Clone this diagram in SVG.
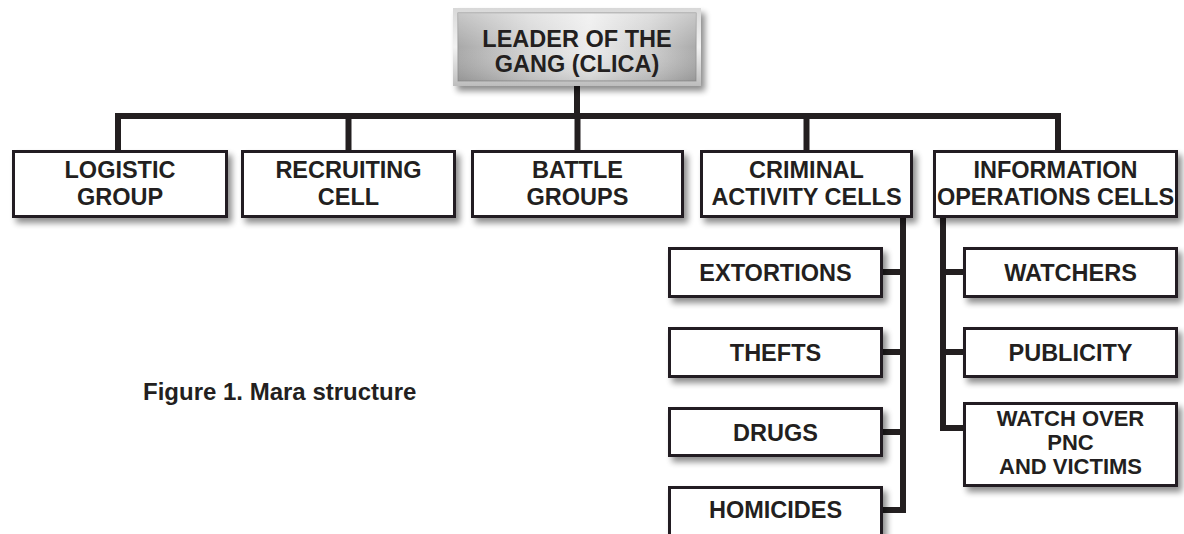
<svg xmlns="http://www.w3.org/2000/svg" width="1184" height="534" viewBox="0 0 1184 534">
<defs>
<filter id="sh" x="-10%" y="-20%" width="130%" height="160%">
<feGaussianBlur in="SourceAlpha" stdDeviation="3"/>
<feOffset dx="4" dy="5" result="b"/>
<feComponentTransfer><feFuncA type="linear" slope="0.45"/></feComponentTransfer>
<feMerge><feMergeNode/><feMergeNode in="SourceGraphic"/></feMerge>
</filter>
<linearGradient id="frame" x1="0" y1="0" x2="0" y2="1">
<stop offset="0" stop-color="#d8d8d8"/>
<stop offset="0.5" stop-color="#f2f2f2"/>
<stop offset="1" stop-color="#bdbdbd"/>
</linearGradient>
<linearGradient id="metal" x1="0" y1="0" x2="1" y2="0">
<stop offset="0" stop-color="#a9a9a9"/>
<stop offset="0.3" stop-color="#d4d4d4"/>
<stop offset="0.55" stop-color="#ececec"/>
<stop offset="0.8" stop-color="#cfcfcf"/>
<stop offset="1" stop-color="#ababab"/>
</linearGradient>
<linearGradient id="metalv" x1="0" y1="0" x2="0" y2="1">
<stop offset="0" stop-color="#ffffff" stop-opacity="0.35"/>
<stop offset="0.5" stop-color="#ffffff" stop-opacity="0"/>
<stop offset="1" stop-color="#000000" stop-opacity="0.12"/>
</linearGradient>
</defs>
<style>
.box{fill:#ffffff;stroke:#231f20;stroke-width:3;filter:url(#sh);}
.t{font-family:"Liberation Sans",Arial,sans-serif;font-weight:bold;font-size:23.5px;fill:#231f20;text-anchor:middle;}
.s{font-size:22px;}
.cap{font-family:"Liberation Sans",Arial,sans-serif;font-weight:bold;font-size:24px;fill:#231f20;}
.c{fill:none;stroke:#231f20;stroke-width:6;stroke-linejoin:miter;stroke-linecap:butt;}
</style>
<rect width="1184" height="534" fill="#ffffff"/>

<g id="connectors">
<path class="c" d="M577 86 V116"/>
<path class="c" d="M118 150 V116 H1058 V150"/>
<path class="c" d="M348.5 116 V150"/>
<path class="c" d="M577.5 116 V150"/>
<path class="c" d="M806.5 116 V150"/>
<path class="c" d="M903 218 V510 H883"/>
<path class="c" d="M883 272 H903"/>
<path class="c" d="M883 352 H903"/>
<path class="c" d="M883 432 H903"/>
<path class="c" d="M943 218 V428 H963"/>
<path class="c" d="M943 272 H963"/>
<path class="c" d="M943 352 H963"/>
</g>

<g id="leader">
<rect x="453" y="8" width="248" height="78" fill="url(#frame)" filter="url(#sh)"/>
<rect x="458" y="13" width="238" height="68" fill="url(#metal)" stroke="#9a9a9a" stroke-width="1"/>
<rect x="458" y="13" width="238" height="68" fill="url(#metalv)"/>
<text class="t" x="577" y="47">LEADER OF THE</text>
<text class="t" x="577" y="72">GANG (CLICA)</text>
</g>

<g id="logistic">
<rect class="box" x="13.5" y="151.5" width="213" height="65"/>
<text class="t" x="120" y="178">LOGISTIC</text>
<text class="t" x="120" y="205">GROUP</text>
</g>
<g id="recruiting">
<rect class="box" x="242.5" y="151.5" width="212" height="65"/>
<text class="t" x="348.5" y="178">RECRUITING</text>
<text class="t" x="348.5" y="205">CELL</text>
</g>
<g id="battle">
<rect class="box" x="472.5" y="151.5" width="210" height="65"/>
<text class="t" x="577.5" y="178">BATTLE</text>
<text class="t" x="577.5" y="205">GROUPS</text>
</g>
<g id="criminal">
<rect class="box" x="701.5" y="151.5" width="210" height="65"/>
<text class="t" x="806.5" y="178">CRIMINAL</text>
<text class="t" x="806.5" y="205">ACTIVITY CELLS</text>
</g>
<g id="information">
<rect class="box" x="934.5" y="151.5" width="242" height="65"/>
<text class="t" x="1055.5" y="178">INFORMATION</text>
<text class="t" x="1055.5" y="205">OPERATIONS CELLS</text>
</g>

<g id="extortions">
<rect class="box" x="669.5" y="248.5" width="212" height="48"/>
<text class="t" x="775.5" y="281">EXTORTIONS</text>
</g>
<g id="thefts">
<rect class="box" x="669.5" y="328.5" width="212" height="48"/>
<text class="t" x="775.5" y="361">THEFTS</text>
</g>
<g id="drugs">
<rect class="box" x="669.5" y="408.5" width="212" height="47"/>
<text class="t" x="775.5" y="441">DRUGS</text>
</g>
<g id="homicides">
<rect class="box" x="669.5" y="487.5" width="212" height="60"/>
<text class="t" x="775.5" y="518">HOMICIDES</text>
</g>

<g id="watchers">
<rect class="box" x="964.5" y="248.5" width="212" height="48"/>
<text class="t" x="1070.5" y="281">WATCHERS</text>
</g>
<g id="publicity">
<rect class="box" x="964.5" y="328.5" width="212" height="48"/>
<text class="t" x="1070.5" y="361">PUBLICITY</text>
</g>
<g id="watchover">
<rect class="box" x="964.5" y="403.5" width="212" height="82"/>
<text class="t s" x="1070.5" y="426">WATCH OVER</text>
<text class="t s" x="1070.5" y="450">PNC</text>
<text class="t s" x="1070.5" y="474">AND VICTIMS</text>
</g>

<text class="cap" x="143" y="400">Figure 1. Mara structure</text>
</svg>
